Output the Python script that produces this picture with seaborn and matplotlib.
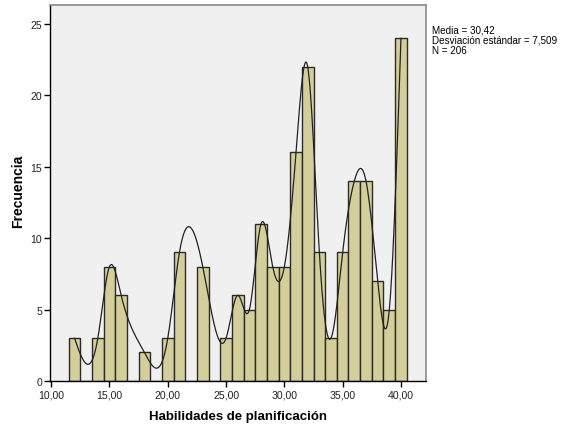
"""Histograma de Habilidades de planificación (estilo SPSS)."""
import numpy as np
import pandas as pd
import matplotlib
matplotlib.use('Agg')
import matplotlib.pyplot as plt
import seaborn as sns

# puntajes observados y frecuencia de cada uno
scores = [12, 14, 15, 16, 18, 20, 21, 23, 25, 26, 27, 28, 29, 30,
          31, 32, 33, 34, 35, 36, 37, 38, 39, 40]
counts = [3, 3, 8, 6, 2, 3, 9, 8, 3, 6, 5, 11, 8, 8,
          16, 22, 9, 3, 9, 14, 14, 7, 5, 24]
x_ticks = [10, 15, 20, 25, 30, 35, 40]
y_ticks = [0, 5, 10, 15, 20, 25]
stats_text = 'Media = 30,42\nDesviación estándar = 7,509\nN = 206'


def natural_spline(xs, ys, n=600):
    """Curva suave (spline cúbico natural) que pasa por las alturas."""
    xs = np.asarray(xs, float)
    ys = np.asarray(ys, float)
    k = len(xs)
    h = np.diff(xs)
    A = np.zeros((k, k))
    b = np.zeros(k)
    A[0, 0] = A[-1, -1] = 1
    for i in range(1, k - 1):
        A[i, i - 1] = h[i - 1]
        A[i, i] = 2 * (h[i - 1] + h[i])
        A[i, i + 1] = h[i]
        b[i] = 6 * ((ys[i + 1] - ys[i]) / h[i] - (ys[i] - ys[i - 1]) / h[i - 1])
    M = np.linalg.solve(A, b)
    xx = np.linspace(xs[0], xs[-1], n)
    idx = np.clip(np.searchsorted(xs, xx) - 1, 0, k - 2)
    x0, x1 = xs[idx], xs[idx + 1]
    hh = x1 - x0
    t0, t1 = x1 - xx, xx - x0
    yy = (M[idx] * t0 ** 3 + M[idx + 1] * t1 ** 3) / (6 * hh) \
        + (ys[idx] / hh - M[idx] * hh / 6) * t0 \
        + (ys[idx + 1] / hh - M[idx + 1] * hh / 6) * t1
    return xx, yy


sns.set_style('ticks')
plt.rcParams['font.family'] = ['Liberation Sans', 'DejaVu Sans']

fig = plt.figure(figsize=(5.61, 4.27), dpi=100)
ax = fig.add_axes([0.090, 0.1054, 0.669, 0.881])
ax.set_facecolor('#F0F0F0')

df = pd.DataFrame({'score': scores, 'count': counts})
sns.histplot(data=df, x='score', weights='count', discrete=True, ax=ax,
             color='#D3CE9A', edgecolor='#2b2b2b', linewidth=1.0, alpha=1)

xx, yy = natural_spline(scores, counts)
ax.plot(xx, yy, color='#222222', linewidth=0.9)

ax.set_xlim(9.94, 42.13)
ax.set_ylim(0, 26.33)
ax.set_xticks(x_ticks)
ax.set_xticklabels(['{:.2f}'.format(v).replace('.', ',') for v in x_ticks])
ax.set_yticks(y_ticks)
ax.tick_params(axis='both', labelsize=7.6, length=4, width=1, color='black',
               labelcolor='#222222', pad=2)

for side in ['left', 'bottom']:
    ax.spines[side].set_color('black')
    ax.spines[side].set_linewidth(1.0)
for side in ['top', 'right']:
    ax.spines[side].set_visible(True)
    ax.spines[side].set_color('#8a8a8a')
    ax.spines[side].set_linewidth(1.2)

ax.set_xlabel('Habilidades de planificación', fontsize=9.5,
              fontweight='bold', labelpad=8, color='black')
ax.set_ylabel('Frecuencia', fontsize=10, fontweight='bold', color='black',
              va='center')
ax.yaxis.set_label_coords(-0.087, 0.507)

fig.text(0.770, 0.940, stats_text, fontsize=7.1, va='top', ha='left',
         linespacing=1.0, color='black')

fig.savefig('out.png', dpi=100)
